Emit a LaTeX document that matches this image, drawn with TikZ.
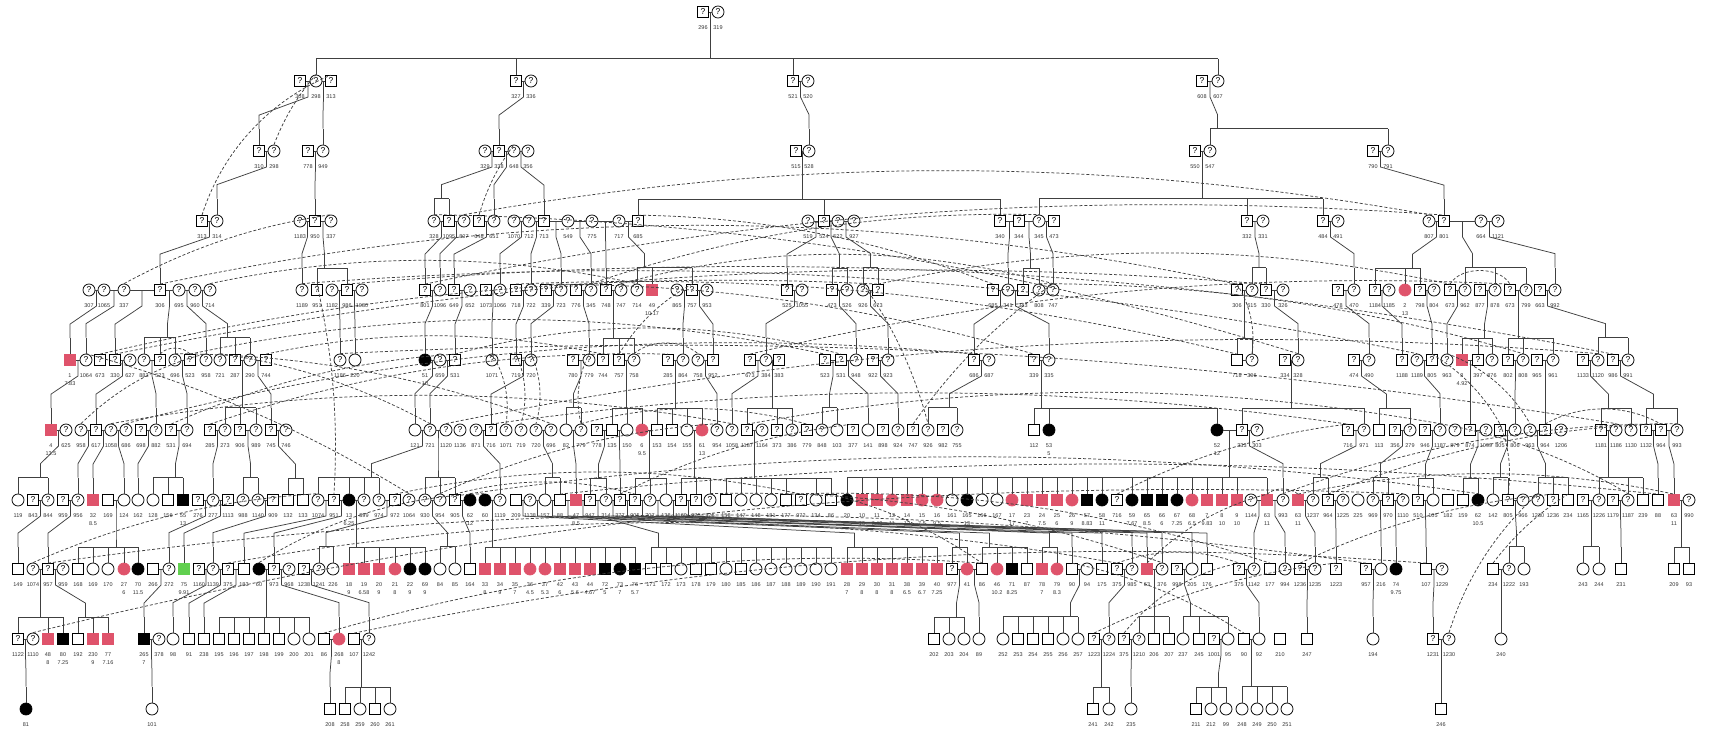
\documentclass[tikz,border=0pt]{standalone}
\usepackage{fontspec}
\setmainfont{Liberation Sans}
\usetikzlibrary{calc}

\definecolor{affred}{HTML}{DF536B}
\definecolor{affgreen}{HTML}{61D04F}

\tikzset{
  msym/.style={draw,line width=0.75pt,minimum size=11pt,inner sep=0pt,fill=white,font=\fontsize{8.5}{8.5}\selectfont},
  fsym/.style={circle,draw,line width=0.75pt,minimum size=12pt,inner sep=0pt,fill=white,font=\fontsize{8.5}{8.5}\selectfont},
  mq/.style={msym,execute at begin node={?}},
  fq/.style={fsym,execute at begin node={?}},
  mn/.style={msym},
  fn/.style={fsym},
  ma/.style={msym,fill=affred,draw=affred},
  fa/.style={fsym,fill=affred,draw=affred},
  mb/.style={msym,fill=black},
  fb/.style={fsym,fill=black},
  mg/.style={msym,fill=affgreen,draw=affgreen},
  lab/.style={font=\fontsize{5.5}{6}\selectfont,inner sep=0pt,text=black!80},
  kin/.style={line width=0.75pt,draw=black!75},
  dup/.style={kin,dash pattern=on 3pt off 2pt}
}

% one generation: x/type/label/second line
\newcommand\gen[3]{%
  \foreach \x/\ty/\nlab/\nsub in {#3}{%
    \node[\ty] (#1\x) at (\x,#2) {};
    \node[lab] (l#1\x) at (\x,{#2+16}) {\nlab};
    \node[lab] (s#1\x) at (\x,{#2+23.5}) {\nsub};
  }}

\makeatletter
\newcommand\kinx[2]{\pgfpointanchor{#1}{center}\edef#2{\the\pgf@x}}
\makeatother

% family: father, mother, children
\newcommand\kinfam[3]{%
  \foreach \c [count=\i] in {#3}{\ifnum\i=1 \xdef\famA{\c}\fi\xdef\famB{\c}}%
  \kinx{#1}{\famPa}\kinx{#2}{\famPb}\kinx{\famA}{\famCa}\kinx{\famB}{\famCb}%
  \pgfmathsetmacro\famd{min(7.5,(\famCb-\famCa)/2)}%
  \pgfmathsetmacro\famt{max(\famCa+\famd,min(\famCb-\famd,(\famPa+\famPb)/2))}%
  \coordinate (fp) at ($(#1)!.5!(#2)$);
  \coordinate (fb) at ($(\famA.north)+(0,-16)$);
  \coordinate (ft) at (\famt pt,0 |- fb);
  \draw[kin] (#1) -- (#2);
  \foreach \c in {#3}{\draw[kin] (\c.north) -- ++(0,-16);}
  \draw[kin] (fb) -- (fb -| \famB.north);
  \draw[kin] (fp) -- ++(0,16) -- ($(ft)+(0,-14)$) -- (ft);
}

\begin{document}
\begin{tikzpicture}[x=1pt,y=-1pt]
\useasboundingbox (0,0) rectangle (1710,732);

% generations
\gen{A}{12}{703/mq/296/{},718/fq/319/{}}
\gen{B}{81}{300/mq/308/{},316/fq/298/{},331/mq/313/{},516/mq/327/{},531/fq/336/{},793/mq/521/{},808/fq/520/{},1202/mq/608/{},1218/fq/607/{}}
\gen{C}{151}{259/mq/310/{},274/fq/298/{},308/mq/778/{},323/fq/949/{},485/fq/329/{},499/mq/338/{},514/fq/648/{},528/fq/356/{},796/mq/515/{},809/fq/528/{},1195/mq/550/{},1210/fq/547/{},1373/mq/790/{},1388/fq/791/{}}
\gen{D}{221}{202/mq/313/{},217/fq/314/{},300/fq/1183/{},315/mq/950/{},331/fq/337/{},434/fq/328/{},449/mq/1095/{},464/fq/807/{},479/mq/648/{},494/fq/651/{},514/fq/1070/{},529/fq/712/{},544/mq/713/{},568/fq/549/{},592/fq/775/{},619/fq/717/{},638/mq/685/{},808/fq/519/{},824/mq/524/{},838/fq/522/{},854/fq/927/{},1000/mq/340/{},1019/mq/344/{},1039/fq/345/{},1054/mq/473/{},1247/mq/332/{},1263/fq/331/{},1323/mq/484/{},1338/fq/491/{},1429/fq/807/{},1444/mq/801/{},1481/fq/664/{},1498/fq/1121/{}}
\gen{E}{290}{89/fq/307/{},104/fq/1065/{},124/fq/337/{},160/mq/306/{},179/fq/695/{},195/fq/960/{},210/fq/714/{},302/fq/1189/{},317/mq/951/{},332/fq/1182/{},347/mq/986/{},362/fq/1080/{},425/mq/801/{},440/fq/1096/{},454/mq/649/{},470/fq/652/{},486/mq/1073/{},500/fq/1066/{},516/mq/718/{},531/fq/722/{},546/mq/339/{},561/fq/723/{},576/mq/776/{},591/fq/345/{},606/mq/748/{},621/fq/747/{},637/fq/714/{},652/ma/49/10.17,677/fq/865/{},692/mq/757/{},707/fq/953/{},787/mq/525/{},802/fq/1055/{},832/mq/473/{},847/fq/526/{},863/fq/926/{},878/mq/673/{},993/mq/685/{},1008/fq/341/{},1023/mq/343/{},1039/fq/808/{},1053/fq/747/{},1237/mq/306/{},1252/fq/615/{},1266/mq/330/{},1283/fq/326/{},1338/mq/478/{},1354/fq/470/{},1375/mq/1184/{},1389/fq/1185/{},1405/fa/2/13,1420/mq/798/{},1434/fq/804/{},1450/mq/673/{},1465/fq/962/{},1480/mq/877/{},1495/fq/878/{},1510/mq/673/{},1526/fq/799/{},1540/mq/663/{},1555/fq/992/{}}
\gen{F}{360}{70/ma/1/7.83,86/fq/1064/{},100/mq/673/{},115/mq/330/{},130/fq/627/{},144/fq/883/{},160/mq/523/{},175/fq/696/{},190/mq/523/{},206/fq/958/{},220/fq/721/{},235/mq/287/{},250/fq/290/{},266/mq/744/{},340/fq/1186/{},355/fn/220/{},425/fb/51/10,440/fq/659/{},455/mq/531/{},492/fq/1071/{},516/mq/719/{},531/fq/720/{},573/mq/780/{},589/fq/779/{},603/mq/744/{},619/mq/757/{},634/fq/758/{},668/mq/285/{},683/fq/864/{},698/fq/758/{},713/mq/952/{},750/mq/673/{},766/fq/384/{},779/mq/383/{},825/mq/523/{},841/mq/531/{},856/fq/948/{},873/mq/922/{},888/fq/923/{},974/mq/686/{},989/fq/687/{},1034/mq/339/{},1049/fq/335/{},1237/mn/718/{},1252/fq/306/{},1285/mq/334/{},1298/fq/328/{},1354/mq/474/{},1369/fq/490/{},1402/mq/1188/{},1417/fq/1189/{},1432/mq/805/{},1447/fq/963/{},1462/ma/3/4.92,1478/mq/397/{},1492/fq/876/{},1508/mq/802/{},1523/fq/808/{},1537/mq/965/{},1553/fq/961/{},1583/mq/1133/{},1598/fq/1120/{},1613/mq/986/{},1628/fq/991/{}}
\gen{G}{430}{51/ma/4/13.5,66/fq/625/{},81/fq/958/{},96/mq/617/{},111/fq/1058/{},126/fq/686/{},141/mq/698/{},156/fq/882/{},171/mq/531/{},187/fq/694/{},210/mq/285/{},225/fq/273/{},240/mq/906/{},256/fq/989/{},271/mq/745/{},286/fq/746/{},415/fn/121/{},430/fq/721/{},446/fq/1120/{},460/fq/1136/{},476/fq/871/{},491/mq/716/{},506/fq/1071/{},521/fq/719/{},536/fq/720/{},551/fq/696/{},566/fn/82/{},581/fq/779/{},597/mq/778/{},612/mn/135/{},627/fn/150/{},642/fa/6/9.5,657/mn/153/{},672/mn/154/{},687/fn/155/{},702/fa/61/13,717/fq/954/{},732/fq/1058/{},747/mq/1187/{},762/fq/1164/{},777/mq/373/{},792/fq/386/{},807/mq/779/{},822/fq/848/{},837/fn/103/{},853/mq/377/{},868/fn/141/{},883/mq/898/{},898/fq/924/{},913/mq/747/{},928/fq/926/{},943/mq/982/{},957/fq/755/{},1034/mn/112/{},1049/fb/53/5,1217/fb/52/12,1242/mq/333/{},1257/fq/303/{},1348/mq/716/{},1364/fq/971/{},1379/mn/113/{},1395/mq/356/{},1410/fq/279/{},1425/mq/946/{},1440/fq/1187/{},1455/fq/879/{},1470/mq/874/{},1486/fq/1099/{},1500/mq/805/{},1515/fq/806/{},1530/fq/963/{},1545/mq/964/{},1561/fq/1206/{},1601/mq/1181/{},1616/fq/1186/{},1631/fq/1130/{},1646/mq/1132/{},1661/mq/964/{},1677/fq/993/{}}
\gen{H}{500}{18/fn/119/{},33/mq/843/{},48/fq/844/{},63/mq/959/{},78/fq/956/{},93/ma/32/8.5,108/mn/169/{},124/fn/124/{},138/fn/162/{},153/fn/128/{},168/mn/156/{},183/mb/55/13,198/mq/276/{},213/fq/277/{},228/mq/1113/{},243/fq/988/{},258/fq/1140/{},273/mq/909/{},288/mn/132/{},303/mn/133/{},318/fq/1074/{},334/mq/951/{},349/fb/13/6.25,364/fq/899/{},379/fq/974/{},395/mq/972/{},409/fq/1064/{},425/fq/930/{},440/fq/954/{},455/mq/905/{},470/fb/62/12,485/fb/60/{},500/fq/1119/{},516/mn/209/{},530/fq/1138/{},545/fn/157/{},560/mn/88/{},576/ma/47/8.5,590/mq/947/{},606/fq/314/{},620/mq/377/{},635/mq/905/{},650/fq/707/{},666/fn/138/{},681/mq/1169/{},696/mq/975/{},710/fq/376/{},726/mn/158/{},741/fn/147/{},756/fn/148/{},771/fn/181/{},786/mn/177/{},801/mq/972/{},816/fn/134/{},831/mn/86/{},847/fb/20/{},862/ma/10/10,877/ma/11/7.42,892/fa/12/11,907/ma/14/12,922/fa/15/7.5,937/fa/16/9.5,952/fn/161/{},967/fb/165/13,982/fn/166/{},997/fn/167/{},1012/fa/17/17,1027/ma/23/7,1042/ma/24/7.5,1057/ma/25/6,1072/fa/26/9,1087/mb/57/8.83,1102/fb/58/11,1117/mq/716/{},1132/fb/59/7.67,1147/mb/65/8.5,1162/mb/66/6,1177/fb/67/7.25,1192/fa/68/6.5,1207/ma/7/9.83,1222/ma/8/10,1237/ma/9/10,1251/fq/1144/{},1267/ma/63/11,1283/fq/993/{},1298/ma/63/11,1313/fq/1237/{},1328/mq/964/{},1343/fq/1225/{},1358/fn/225/{},1373/fq/969/{},1388/mq/970/{},1403/fq/1110/{},1418/mq/510/{},1433/fn/105/{},1448/mn/182/{},1463/mn/159/{},1478/fb/62/10.5,1493/fn/142/{},1508/mq/805/{},1523/fq/966/{},1538/fq/1230/{},1553/mq/1236/{},1568/mn/234/{},1583/mq/1165/{},1599/fq/1226/{},1613/mq/1179/{},1628/fq/1187/{},1643/mn/239/{},1658/mn/88/{},1674/ma/63/11,1689/fq/990/{}}
\gen{I}{569}{18/mn/149/{},33/fq/1074/{},48/mq/957/{},63/fq/959/{},78/mn/168/{},93/fn/169/{},108/fn/170/{},124/fa/27/6,138/fb/70/11.5,153/mn/266/{},169/fq/272/{},184/mg/75/9.91,199/mq/1160/{},213/fq/1139/{},228/mq/375/{},244/mn/183/{},259/fb/60/{},274/mq/973/{},289/fq/968/{},304/mq/1238/{},319/fq/1241/{},333/fn/226/{},349/ma/18/9,364/ma/19/6.58,379/ma/20/9,395/fa/21/8,410/fb/22/9,425/fb/69/9,440/fn/84/{},455/fn/85/{},470/mn/164/{},485/ma/33/8,500/ma/34/9,515/ma/35/7,530/fa/36/4.5,545/fa/37/5.3,560/ma/42/6,575/ma/43/5.6,590/ma/44/4.67,605/mb/72/5,620/fb/73/7,635/mb/76/5.7,651/mn/171/{},666/mn/172/{},681/fn/173/{},696/mn/178/{},711/mn/179/{},726/fn/180/{},741/mn/185/{},756/fn/186/{},771/fn/187/{},786/fn/188/{},801/fn/189/{},816/fn/190/{},831/fn/191/{},847/ma/28/7,862/ma/29/8,877/ma/30/8,892/ma/31/8,907/ma/38/6.5,922/ma/39/6.7,937/ma/40/7.25,952/mq/977/{},967/fa/41/{},982/mn/86/{},997/fa/46/10.2,1012/mb/71/8.25,1027/mn/87/{},1042/ma/78/7,1057/fa/79/8.3,1072/mn/90/{},1087/fn/94/{},1102/mn/175/{},1117/mq/375/{},1132/fq/985/{},1147/ma/63/{},1162/fq/376/{},1177/mq/998/{},1192/fn/205/{},1207/mn/176/{},1239/mq/375/{},1254/fq/1142/{},1270/mn/177/{},1285/fq/994/{},1300/mq/1236/{},1315/fq/1235/{},1336/mq/1223/{},1366/mq/957/{},1381/fn/216/{},1396/fb/74/9.75,1426/mn/107/{},1442/fq/1229/{},1493/mn/234/{},1509/fq/1222/{},1524/fn/193/{},1583/fn/243/{},1599/fn/244/{},1621/mn/231/{},1674/mn/209/{},1689/mn/93/{}}
\gen{J}{639}{18/mq/1122/{},33/fq/1110/{},48/ma/48/8,63/mb/80/7.25,78/mn/192/{},93/ma/230/9,108/ma/77/7.16,144/mb/265/7,159/fq/378/{},173/fn/98/{},189/mn/91/{},204/mn/238/{},219/mn/195/{},234/mn/196/{},249/mn/197/{},264/mn/198/{},279/mn/199/{},294/fn/200/{},309/fn/201/{},324/mn/86/{},339/fa/268/8,354/mn/107/{},369/fq/1242/{},934/mn/202/{},949/fn/203/{},964/fn/204/{},979/fn/89/{},1003/fn/252/{},1018/mn/253/{},1033/mn/254/{},1048/mn/255/{},1063/fn/256/{},1078/fn/257/{},1094/mq/1223/{},1109/fq/1224/{},1124/mq/375/{},1139/fq/1210/{},1154/mn/206/{},1169/mn/207/{},1183/fn/237/{},1199/mn/245/{},1214/mq/1001/{},1228/fn/95/{},1244/mn/90/{},1259/fn/92/{},1280/mn/210/{},1307/mn/247/{},1373/fn/194/{},1433/mq/1231/{},1449/fq/1230/{},1501/fn/240/{}}
\gen{K}{709}{26/fb/81/{},152/fn/101/{},330/mn/208/{},345/mn/258/{},360/fn/259/{},375/mn/260/{},390/fn/261/{},1093/mn/241/{},1109/fn/242/{},1131/fn/235/{},1196/mn/211/{},1211/fn/212/{},1226/fn/99/{},1242/fn/248/{},1257/fn/249/{},1272/fn/250/{},1287/fn/251/{},1441/mn/246/{}}

% families
\kinfam{A703}{A718}{B316,B516,B793,B1218}
\kinfam{B300}{B316}{C259}
\kinfam{B316}{B331}{C323}
\kinfam{B516}{B531}{C499}
\kinfam{B793}{B808}{C809}
\kinfam{B1202}{B1218}{C1210,C1388}
\kinfam{C259}{C274}{D217}
\kinfam{C308}{C323}{D315}
\kinfam{C485}{C499}{D434,D449}
\kinfam{C499}{C514}{D494}
\kinfam{C514}{C528}{D544}
\kinfam{C796}{C809}{D638,D824,D1000}
\kinfam{C1195}{C1210}{D1039,D1247,D1323}
\kinfam{C1373}{C1388}{D1444}
\kinfam{D202}{D217}{E160}
\kinfam{D300}{D315}{E302}
\kinfam{D315}{D331}{E317,E347}
\kinfam{D434}{D449}{E425}
\kinfam{D449}{D464}{E440}
\kinfam{D479}{D494}{E454}
\kinfam{D514}{D529}{E500}
\kinfam{D529}{D544}{E531}
\kinfam{D544}{D568}{E561}
\kinfam{D568}{D592}{E591}
\kinfam{D592}{D619}{E606}
\kinfam{D619}{D638}{E637,E652,E692}
\kinfam{D808}{D824}{E787}
\kinfam{D824}{D838}{E832,E847}
\kinfam{D838}{D854}{E863,E878}
\kinfam{D1000}{D1019}{E1008}
\kinfam{D1019}{D1039}{E1023,E1039}
\kinfam{D1039}{D1054}{E1053}
\kinfam{D1247}{D1263}{E1252,E1266}
\kinfam{D1323}{D1338}{E1354}
\kinfam{D1429}{D1444}{E1375,E1405,E1420}
\kinfam{D1444}{D1481}{E1465,E1495,E1526}
\kinfam{D1481}{D1498}{E1555}
\kinfam{E89}{E104}{F70}
\kinfam{E104}{E124}{F86}
\kinfam{E124}{E160}{F115}
\kinfam{E160}{E179}{F144,F160,F175}
\kinfam{E179}{E195}{F206}
\kinfam{E195}{E210}{F220,F235,F250}
\kinfam{E332}{E347}{F340}
\kinfam{E347}{E362}{F355}
\kinfam{E425}{E440}{F425}
\kinfam{E454}{E470}{F455}
\kinfam{E486}{E500}{F492}
\kinfam{E516}{E531}{F516}
\kinfam{E546}{E561}{F531}
\kinfam{E576}{E591}{F589}
\kinfam{E606}{E621}{F603,F619,F634}
\kinfam{E677}{E692}{F683}
\kinfam{E692}{E707}{F713}
\kinfam{E787}{E802}{F766}
\kinfam{E832}{E847}{F856}
\kinfam{E863}{E878}{F888}
\kinfam{E993}{E1008}{F974}
\kinfam{E1008}{E1023}{F1049}
\kinfam{E1237}{E1252}{F1237,F1252}
\kinfam{E1266}{E1283}{F1298}
\kinfam{E1338}{E1354}{F1369}
\kinfam{E1375}{E1389}{F1402}
\kinfam{E1420}{E1434}{F1432}
\kinfam{E1450}{E1465}{F1447}
\kinfam{E1480}{E1495}{F1462,F1478,F1492}
\kinfam{E1510}{E1526}{F1508,F1523,F1553}
\kinfam{E1540}{E1555}{F1598,F1628}
\kinfam{F70}{F86}{G51}
\kinfam{F115}{F130}{G96}
\kinfam{F144}{F160}{G156}
\kinfam{F175}{F190}{G187}
\kinfam{F235}{F250}{G225,G240,G256}
\kinfam{F250}{F266}{G271}
\kinfam{F425}{F440}{G415}
\kinfam{F440}{F455}{G430}
\kinfam{F516}{F531}{G491}
\kinfam{F573}{F589}{G566,G581}
\kinfam{F619}{F634}{G612,G627,G642}
\kinfam{F668}{F683}{G657,G672,G687,G702}
\kinfam{F698}{F713}{G717}
\kinfam{F750}{F766}{G732}
\kinfam{F766}{F779}{G747,G777,G792}
\kinfam{F825}{F841}{G822,G837}
\kinfam{F841}{F856}{G868}
\kinfam{F873}{F888}{G898}
\kinfam{F974}{F989}{G928,G957}
\kinfam{F1034}{F1049}{G1034,G1049,G1217}
\kinfam{F1285}{F1298}{G1242,G1364}
\kinfam{F1354}{F1369}{G1379,G1410}
\kinfam{F1417}{F1432}{G1440}
\kinfam{F1462}{F1478}{G1470}
\kinfam{F1508}{F1523}{G1515}
\kinfam{F1537}{F1553}{G1545}
\kinfam{F1583}{F1598}{G1601,G1631}
\kinfam{F1613}{F1628}{G1646,G1677}
\draw[kin] (F1237) -- (F1252);
\kinfam{G51}{G66}{H18,H48}
\kinfam{G81}{G96}{H78}
\kinfam{G96}{G111}{H93}
\kinfam{G111}{G126}{H124}
\kinfam{G141}{G156}{H138}
\kinfam{G171}{G187}{H153,H168,H183}
\kinfam{G210}{G225}{H213}
\kinfam{G240}{G256}{H243,H258}
\kinfam{G271}{G286}{H288,H303}
\kinfam{G415}{G430}{H318,H349,H364,H379}
\kinfam{G430}{G446}{H425,H440,H455}
\kinfam{G476}{G491}{H500}
\kinfam{G536}{G551}{H545,H560}
\kinfam{G566}{G581}{H576}
\kinfam{G597}{G612}{H590,H606}
\kinfam{G612}{G627}{H620}
\kinfam{G642}{G657}{H635,H650,H666}
\kinfam{G687}{G702}{H681,H696,H710}
\kinfam{G747}{G762}{H726,H741,H756,H771,H786,H816,H831}
\kinfam{G1217}{G1242}{H847,H862,H877,H892,H907,H922,H937,H952,H967,H982,H997,H1012,H1027,H1042,H1057,H1072,H1087,H1102,H1132,H1147,H1162,H1177,H1192,H1207,H1222,H1237,H1267}
\kinfam{G1242}{G1257}{H1283}
\kinfam{G1348}{G1364}{H1313,H1328}
\kinfam{G1395}{G1410}{H1373,H1388}
\kinfam{G1425}{G1440}{H1418,H1433}
\kinfam{G1470}{G1486}{H1463,H1478}
\kinfam{G1500}{G1515}{H1493,H1508}
\kinfam{G1530}{G1545}{H1538,H1553,H1568}
\kinfam{G1601}{G1616}{H1599,H1628,H1643}
\kinfam{G1646}{G1661}{H1658}
\kinfam{G1661}{G1677}{H1674}
\kinfam{H33}{H48}{I18}
\kinfam{H63}{H78}{I48}
\kinfam{H108}{H124}{I78,I93,I108,I124,I138}
\kinfam{H198}{H213}{I169}
\kinfam{H213}{H228}{I184}
\kinfam{H258}{H273}{I213}
\kinfam{H318}{H334}{I244}
\kinfam{H334}{H349}{I274}
\kinfam{H349}{H364}{I349,I364,I379,I395,I410,I425}
\kinfam{H379}{H395}{I319,I333}
\kinfam{H425}{H440}{I440,I455}
\kinfam{H455}{H470}{I470}
\kinfam{H485}{H500}{I485,I500,I515,I530,I545,I560,I575,I590,I605,I620,I635}
\kinfam{H516}{H530}{I847,I862,I877,I892,I907,I922,I937}
\kinfam{H530}{H545}{I952,I967}
\kinfam{H545}{H560}{I982,I997,I1012,I1027}
\kinfam{H560}{H576}{I1072}
\kinfam{H576}{H590}{I1102}
\kinfam{H590}{H606}{I651,I666,I681,I696,I711,I726,I741,I756,I771,I786,I801,I816,I831}
\kinfam{H606}{H620}{I1042,I1057}
\kinfam{H620}{H635}{I1132}
\kinfam{H635}{H650}{I1162}
\kinfam{H650}{H666}{I1192}
\kinfam{H666}{H681}{I1207}
\kinfam{H681}{H696}{I1147}
\kinfam{H1251}{H1267}{I1254}
\kinfam{H1267}{H1283}{I1285}
\kinfam{H1298}{H1313}{I1315}
\kinfam{H1328}{H1343}{I1336}
\kinfam{H1373}{H1388}{I1381}
\kinfam{H1388}{H1403}{I1396}
\kinfam{H1418}{H1433}{I1426}
\kinfam{H1508}{H1523}{I1509,I1524}
\kinfam{H1583}{H1599}{I1583,I1599}
\kinfam{H1613}{H1628}{I1621}
\kinfam{H1674}{H1689}{I1674,I1689}
\kinfam{I33}{I48}{J18,J48,J63}
\kinfam{I48}{I63}{J78,J93,J108}
\kinfam{I153}{I169}{J144}
\kinfam{I199}{I213}{J173}
\kinfam{I213}{I228}{J189}
\kinfam{I228}{I244}{J204}
\kinfam{I259}{I274}{J219,J234,J249,J264,J279,J294,J309}
\kinfam{I274}{I289}{J339}
\kinfam{I304}{I319}{J369}
\kinfam{I952}{I967}{J934,J949,J964}
\kinfam{I967}{I982}{J979}
\kinfam{I1072}{I1087}{J1003,J1018,J1033,J1048,J1063,J1078}
\kinfam{I1117}{I1132}{J1109}
\kinfam{I1147}{I1162}{J1139,J1154,J1169}
\kinfam{I1177}{I1192}{J1183,J1199,J1228}
\kinfam{I1239}{I1254}{J1259}
\kinfam{I1300}{I1315}{J1307}
\kinfam{I1366}{I1381}{J1373}
\kinfam{I1426}{I1442}{J1433}
\kinfam{I1493}{I1509}{J1501}
\kinfam{J18}{J33}{K26}
\kinfam{J144}{J159}{K152}
\kinfam{J324}{J339}{K330}
\kinfam{J354}{J369}{K345,K360,K375,K390}
\kinfam{J1094}{J1109}{K1093,K1109}
\kinfam{J1124}{J1139}{K1131}
\kinfam{J1214}{J1228}{K1196,K1211,K1226}
\kinfam{J1244}{J1259}{K1242,K1257,K1272,K1287}
\kinfam{J1433}{J1449}{K1441}

% repeated individuals
\foreach \da/\db/\dk in {C274/B316/10,D202/B331/25,E124/D331/10,D479/C514/10,D638/E993/10,E302/F1417/8,E317/H334/8,E347/F1613/8,E425/D1444/8,D464/D1429/10,D434/F1298/8,E160/E1237/12,E1237/F1252/20,F115/E1266/8,E591/D1039/10,E546/F1034/8,E621/E1053/15,G913/E1053/10,F100/E878/8,E878/E1450/12,E1450/E1510/60,F750/E1510/8,E210/E637/12,F619/E692/15,E863/G928/10,E1039/F1523/8,E516/F1237/8,F160/F190/50,F190/F825/12,F455/F841/15,G171/F455/10,G81/F206/15,F220/G430/10,F266/F603/12,F492/G506/20,F516/G521/20,F531/G536/20,G581/F589/20,G581/G807/15,F634/F698/40,G210/F668/10,G126/F974/10,F175/G551/10,F86/H409/8,F1432/G1500/15,G1500/H1508/15,F1447/G1530/20,G446/F1598/8,G111/G732/10,G491/G1348/8,H1117/G1348/10,G747/G1440/10,G1440/H1628/10,G1545/G1661/30,H1328/G1661/10,F340/G1616/6,H440/G717/10,H620/G853/10,H1283/G1677/10,I33/H318/10,H395/H801/12,H455/H635/15,H470/H1478/8,I259/H485/15,H710/I1162/10,H831/I982/10,J324/I982/10,J33/H1403/8,J1449/H1538/15,I1300/H1553/10,I1493/H1568/10,H1267/H1298/40,H1298/H1674/12,I1147/H1267/15,I48/I1366/8,I228/I1117/10,I1117/I1239/20,J1124/I1239/20,I1072/J1244/10,J1094/I1336/10,J354/I1426/8,H560/H1658/6,H786/I1270/10}{%
  \draw[dup] (\da.north) .. controls ($(\da.north)!0.35!\dk:(\db.north)$) and ($(\db.north)!0.35!-\dk:(\da.north)$) .. (\db.north);
}
\end{tikzpicture}
\end{document}
